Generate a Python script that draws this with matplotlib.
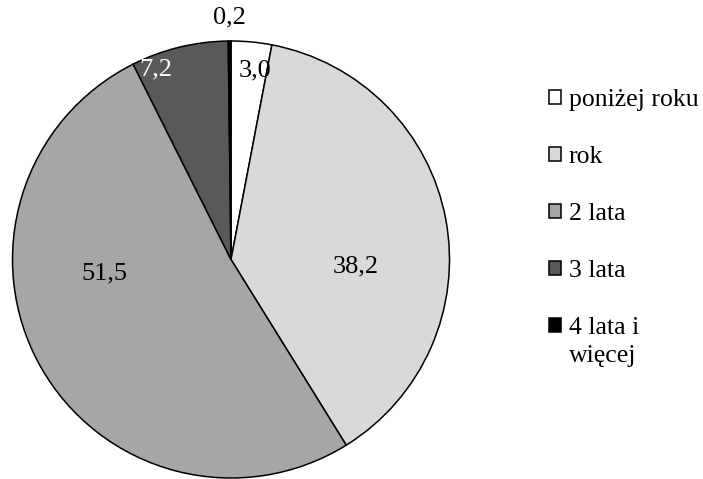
import numpy as np
import matplotlib
matplotlib.use('Agg')
import matplotlib.pyplot as plt

categories = ["poniżej roku", "rok", "2 lata", "3 lata", "4 lata i\nwięcej"]
values = [3.0, 38.2, 51.5, 7.2, 0.2]
value_labels = ["3,0", "38,2", "51,5", "7,2", "0,2"]

colors = ["#ffffff", "#d9d9d9", "#a6a6a6", "#595959", "#000000"]
label_colors = ["black", "black", "black", "white", "black"]
# label placement: distance from centre (radius units) and angle shift (deg)
label_dist = [0.874, 0.573, 0.584, 0.935, 1.108]
label_shift = [-1.8, -13.8, -22.9, 7.9, 0]

plt.rcParams['font.family'] = ['Liberation Serif', 'DejaVu Serif']

W, H = 703, 479
fig = plt.figure(figsize=(W / 100, H / 100), dpi=100)
cx, cy, r = 231, 259.5, 218.5
ax = fig.add_axes([(cx - r) / W, (H - cy - r) / H, 2 * r / W, 2 * r / H])

wedges, _ = ax.pie(values, colors=colors, startangle=90, counterclock=False,
                   radius=1, wedgeprops=dict(edgecolor='black', linewidth=1.1))
ax.set_xlim(-1, 1)
ax.set_ylim(-1, 1)
ax.set_aspect('equal')
ax.axis('off')

total = sum(values)
cum = 0.0
for v, lab, col, d, s in zip(values, value_labels, label_colors, label_dist, label_shift):
    mid = cum + v / 2
    cum += v
    ang = np.deg2rad(90 - 360 * mid / total + s)
    ax.text(d * np.cos(ang), d * np.sin(ang), lab, ha='center', va='center',
            fontsize=19, color=col)

# legend marker sits on the first line of a wrapped label, so the
# continuation lines are drawn as separate text under it
first_lines = [c.split("\n")[0] for c in categories]
leg = fig.legend(wedges, first_lines, loc='upper left',
                 bbox_to_anchor=(549 / W, 1 - 89 / H), frameon=False,
                 fontsize=18.5, handlelength=0.47, handleheight=0.47,
                 handletextpad=0.3, labelspacing=1.36, borderaxespad=0,
                 borderpad=0)

fig.canvas.draw()
inv = fig.transFigure.inverted()
for c, t in zip(categories, leg.get_texts()):
    rest = c.split("\n")[1:]
    if not rest:
        continue
    bb = t.get_window_extent()
    x0, y0 = inv.transform((bb.x0, bb.y0 - 28))
    fig.text(x0, y0, "\n".join(rest), fontsize=18.5, ha='left', va='bottom')

fig.savefig('out.png', dpi=100)
